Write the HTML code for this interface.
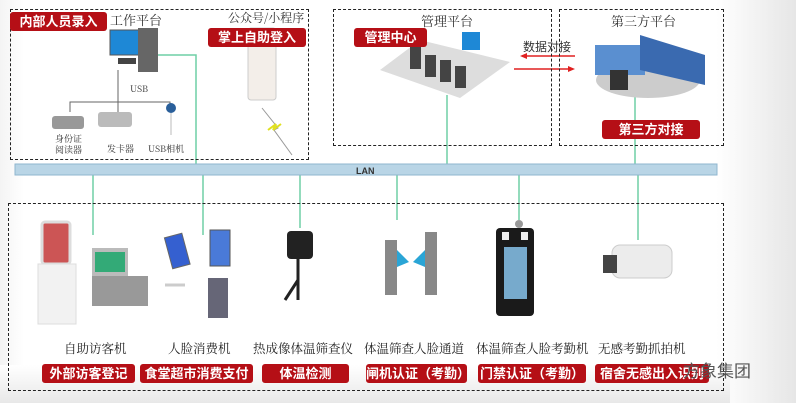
<!DOCTYPE html>
<html><head><meta charset="utf-8"><style>
body{margin:0;width:796px;height:403px;overflow:hidden;font-family:"Liberation Sans","Noto Sans CJK SC",sans-serif;background:linear-gradient(90deg,#f4f4f4 0,#fff 3%,#fff 90%,#e6e6e6 100%);position:relative}
.a{position:absolute}
.box{position:absolute;border:1.3px dashed #222}
.tag{position:absolute;background:#b50f16;color:#fff;font-size:13px;font-weight:bold;text-align:center;border-radius:3px;line-height:19px;height:19px}
.t{position:absolute;font-family:"Noto Serif CJK SC",serif;font-size:12px;color:#333;white-space:nowrap}
.n{position:absolute;font-family:"Noto Serif CJK SC",serif;font-size:12.5px;color:#222;white-space:nowrap}
</style></head><body>
<div class="a" style="left:0;top:365px;width:730px;height:38px;background:linear-gradient(#fff,#e8e8e8)"></div>
<svg class="a" style="left:0;top:0" width="796" height="403">
<g stroke="#6fcfa6" stroke-width="1.5" fill="none">
<path d="M150 55 H196 V166"/><path d="M447 95 V166"/><path d="M635 95 V166"/>
<path d="M93 175 V235"/><path d="M203 175 V235"/><path d="M300 175 V228"/><path d="M397 175 V220"/><path d="M519 175 V220"/><path d="M638 175 V240"/>
</g>
<path d="M118 70 V102 M70 112 V102 H170 V112 M118 102 V112" stroke="#666" fill="none"/>
<rect x="15" y="164" width="702" height="11" fill="#b9d5e6" stroke="#8fb6cf"/>
<text x="356" y="174" font-size="9" font-weight="bold" fill="#333" font-family="Liberation Sans">LAN</text>
<rect x="110" y="30" width="32" height="25" fill="#1e88d6" stroke="#555"/><rect x="138" y="28" width="20" height="44" fill="#666"/>
<rect x="118" y="58" width="18" height="6" fill="#444"/>
<rect x="52" y="116" width="32" height="13" fill="#999" rx="3"/><rect x="98" y="112" width="34" height="15" fill="#bbb" rx="3"/>
<circle cx="171" cy="108" r="5" fill="#2a5f9a"/><path d="M171 113 V135" stroke="#bbb"/>
<rect x="248" y="28" width="28" height="72" rx="3" fill="#f3eee9" stroke="#ccc"/>
<path d="M262 108 L278 128 L274 130 L292 155" stroke="#999" fill="none"/><path d="M268 130 l8 -6 -3 6 8 -6" stroke="#e0e020" stroke-width="2" fill="none"/>
<polygon points="380,70 420,40 510,62 460,98" fill="#ddd"/>
<rect x="410" y="47" width="11" height="22" fill="#444"/><rect x="425" y="55" width="11" height="22" fill="#444"/><rect x="440" y="60" width="11" height="22" fill="#444"/><rect x="455" y="66" width="11" height="22" fill="#444"/>
<rect x="462" y="32" width="18" height="18" fill="#1e88d6"/>
<path d="M575 56 H522" stroke="#e02020" stroke-width="1.5"/><path d="M520 56 l7 -3 v6z" fill="#e02020"/>
<path d="M514 69 H570" stroke="#e02020" stroke-width="1.5"/><path d="M575 69 l-7 -3 v6z" fill="#e02020"/>
<ellipse cx="648" cy="80" rx="52" ry="18" fill="#ccc"/>
<rect x="595" y="45" width="50" height="30" fill="#5a8fd0"/><polygon points="640,35 705,55 705,85 640,70" fill="#3a6ab0"/>
<rect x="610" y="70" width="18" height="20" fill="#333"/>
<rect x="42" y="222" width="28" height="42" fill="#c55" rx="3" stroke="#ddd" stroke-width="3"/><rect x="38" y="264" width="38" height="60" fill="#f2f2f2" stroke="#ddd"/>
<rect x="92" y="248" width="36" height="28" fill="#bbb"/><rect x="95" y="252" width="30" height="20" fill="#3a7"/><rect x="92" y="276" width="56" height="30" fill="#999"/>
<rect x="168" y="235" width="18" height="32" fill="#3560d0" stroke="#666" transform="rotate(-15 177 250)"/><path d="M165 285 H185" stroke="#ccc" stroke-width="3"/>
<rect x="210" y="230" width="20" height="36" fill="#4a7ad8" stroke="#555"/><rect x="208" y="278" width="20" height="40" fill="#667" />
<rect x="287" y="231" width="26" height="28" rx="4" fill="#222"/><path d="M298 259 V300 M298 280 L285 300" stroke="#222" stroke-width="3"/>
<rect x="385" y="240" width="12" height="55" fill="#888"/><rect x="425" y="232" width="12" height="63" fill="#888"/><path d="M397 250 l12 12 -12 5z M425 250 l-12 12 12 5z" fill="#2aa5d6"/>
<rect x="496" y="228" width="38" height="88" rx="4" fill="#1a1a1a"/><rect x="504" y="247" width="23" height="52" fill="#7ac"/>
<rect x="502" y="232" width="7" height="8" fill="#eee"/><rect x="521" y="232" width="7" height="8" fill="#eee"/>
<circle cx="519" cy="224" r="4" fill="#999"/>
<rect x="612" y="245" width="60" height="33" rx="8" fill="#ececec" stroke="#ccc"/><rect x="603" y="255" width="14" height="18" fill="#444"/>
</svg>
<div class="box" style="left:10px;top:9px;width:297px;height:149px"></div>
<div class="box" style="left:333px;top:9px;width:217px;height:135px"></div>
<div class="box" style="left:559px;top:9px;width:163px;height:135px"></div>
<div class="box" style="left:8px;top:203px;width:714px;height:186px"></div>
<div class="tag" style="left:10px;top:12px;width:97px">内部人员录入</div>
<div class="t" style="left:110px;top:10px;font-size:13px">工作平台</div>
<div class="t" style="left:228px;top:9px;font-size:12px">公众号/小程序</div>
<div class="tag" style="left:208px;top:28px;width:98px">掌上自助登入</div>
<div class="t" style="left:130px;top:82px;font-size:9px">USB</div>
<div class="t" style="left:55px;top:133px;font-size:9px;line-height:11px">身份证<br>阅读器</div>
<div class="t" style="left:107px;top:142px;font-size:9px">发卡器</div>
<div class="t" style="left:148px;top:142px;font-size:9px">USB相机</div>
<div class="t" style="left:421px;top:11px;font-size:13px">管理平台</div>
<div class="tag" style="left:354px;top:28px;width:73px">管理中心</div>
<div class="t" style="left:523px;top:38px;font-size:12px;font-family:'Noto Sans CJK SC',sans-serif">数据对接</div>
<div class="t" style="left:611px;top:11px;font-size:13px">第三方平台</div>
<div class="tag" style="left:602px;top:120px;width:98px">第三方对接</div>
<div class="n" style="left:64px;top:339px">自助访客机</div>
<div class="n" style="left:168px;top:339px">人脸消费机</div>
<div class="n" style="left:253px;top:339px">热成像体温筛查仪</div>
<div class="n" style="left:364px;top:339px">体温筛查人脸通道</div>
<div class="n" style="left:476px;top:339px">体温筛查人脸考勤机</div>
<div class="n" style="left:598px;top:339px">无感考勤抓拍机</div>
<div class="tag" style="left:42px;top:364px;width:93px">外部访客登记</div>
<div class="tag" style="left:140px;top:364px;width:113px">食堂超市消费支付</div>
<div class="tag" style="left:262px;top:364px;width:87px">体温检测</div>
<div class="tag" style="left:366px;top:364px;width:101px">闸机认证（考勤）</div>
<div class="tag" style="left:478px;top:364px;width:108px">门禁认证（考勤）</div>
<div class="tag" style="left:595px;top:364px;width:114px">宿舍无感出入识别</div>
<div class="a" style="left:683px;top:357px;font-size:17px;color:#555;font-family:'Noto Sans CJK SC',sans-serif">方象集团</div>
</body></html>
